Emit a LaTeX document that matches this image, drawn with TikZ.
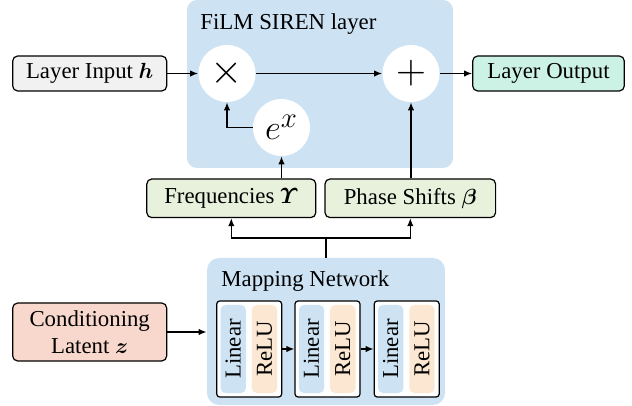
\documentclass[tikz,border=0pt]{standalone}
\usepackage{amsmath}
\usepackage{bm}
\usepackage{fontspec}
\setmainfont{Liberation Serif}
\usetikzlibrary{arrows.meta}

\definecolor{panelblue}{RGB}{205,227,244}
\definecolor{inputgray}{RGB}{241,241,241}
\definecolor{outputmint}{RGB}{204,242,230}
\definecolor{paramgreen}{RGB}{232,241,220}
\definecolor{latentred}{RGB}{248,216,204}
\definecolor{linearblue}{RGB}{205,227,244}
\definecolor{relupeach}{RGB}{252,232,210}

\tikzset{
  panel/.style={fill=panelblue, rounded corners=5pt, inner sep=0pt},
  iobox/.style={draw, line width=0.6pt, rounded corners=2.5pt, minimum height=17.5pt, inner sep=0pt, align=center},
  opcircle/.style={circle, fill=white, minimum size=28.5pt, inner sep=0pt},
  arr/.style={-{Latex[length=4pt,width=3.2pt]}, line width=0.6pt},
  layerblk/.style={draw, fill=white, line width=0.6pt, rounded corners=1.5pt, minimum width=32.5pt, minimum height=48pt, inner sep=0pt},
  strip/.style={rotate=90, rounded corners=2.5pt, minimum width=44pt, minimum height=12.7pt, inner sep=0pt},
}

\begin{document}
\begin{tikzpicture}[x=0.5pt, y=-0.5pt, font=\fontsize{11.4}{13.4}\selectfont]
            \useasboundingbox (0,0) rectangle (632,406);

            % FiLM SIREN layer
            \node[panel, minimum width=133pt, minimum height=84pt] (film) at (320,84) {};
            \node[anchor=base west, inner sep=0pt] (filmtitle) at (200,29.5) {FiLM SIREN layer};
            \node[opcircle, font=\fontsize{20}{24}\selectfont] (mult) at (227,73.5) {$\times$};
            \node[opcircle, font=\fontsize{20}{24}\selectfont] (add) at (411,73.5) {$+$};
            \node[opcircle, font=\fontsize{19}{22}\selectfont] (expo) at (281.5,127.5) {$e^{x}$};

            \node[iobox, fill=inputgray, minimum width=77pt] (input) at (89.7,73.5) {Layer Input $\bm{h}$};
            \node[iobox, fill=outputmint, minimum width=75.8pt] (output) at (548.5,73.5) {Layer Output};

            \node[iobox, fill=paramgreen, minimum width=84.5pt, minimum height=19.3pt] (freq) at (231.3,198.3) {Frequencies $\bm{\varUpsilon}$};
            \node[iobox, fill=paramgreen, minimum width=85.3pt, minimum height=19.3pt] (phase) at (410.3,198.3) {Phase Shifts $\bm{\beta}$};

            % Mapping network
            \node[panel, rounded corners=6pt, minimum width=119pt, minimum height=73.5pt] (mapbox) at (326,331.5) {};
            \node[anchor=base west, inner sep=0pt] (maptitle) at (221,287) {Mapping Network};
            \foreach \i/\cx in {1/249.2, 2/327.5, 3/406.7} {
                \node[layerblk] (blk\i) at (\cx,349) {};
                \node[strip, fill=linearblue] (lin\i) at (\cx-16,349) {Linear};
                \node[strip, fill=relupeach] (relu\i) at (\cx+15.3,349) {ReLU};
            }

            \node[iobox, fill=latentred, minimum width=77pt, minimum height=29pt] (latent) at (89.7,332) {Conditioning\\Latent $\bm{z}$};

            % connectors
            \draw[arr] (input) -- (mult);
            \draw[arr] (mult) -- (add);
            \draw[arr] (add) -- (output);
            \draw[arr] (expo.west) -| (mult.south);
            \draw[arr] (expo |- freq.north) -- (expo.south);
            \draw[arr] (add |- phase.north) -- (add.south);

            \coordinate (split) at (326,238);
            \draw[line width=0.6pt] (mapbox.north) -- (split);
            \draw[arr] (split) -| (freq.south);
            \draw[arr] (split) -| (phase.south);

            \draw[arr] (latent) -- (mapbox.west |- latent);
            \draw[arr] (blk1) -- (blk2);
            \draw[arr] (blk2) -- (blk3);
        \end{tikzpicture}
\end{document}
